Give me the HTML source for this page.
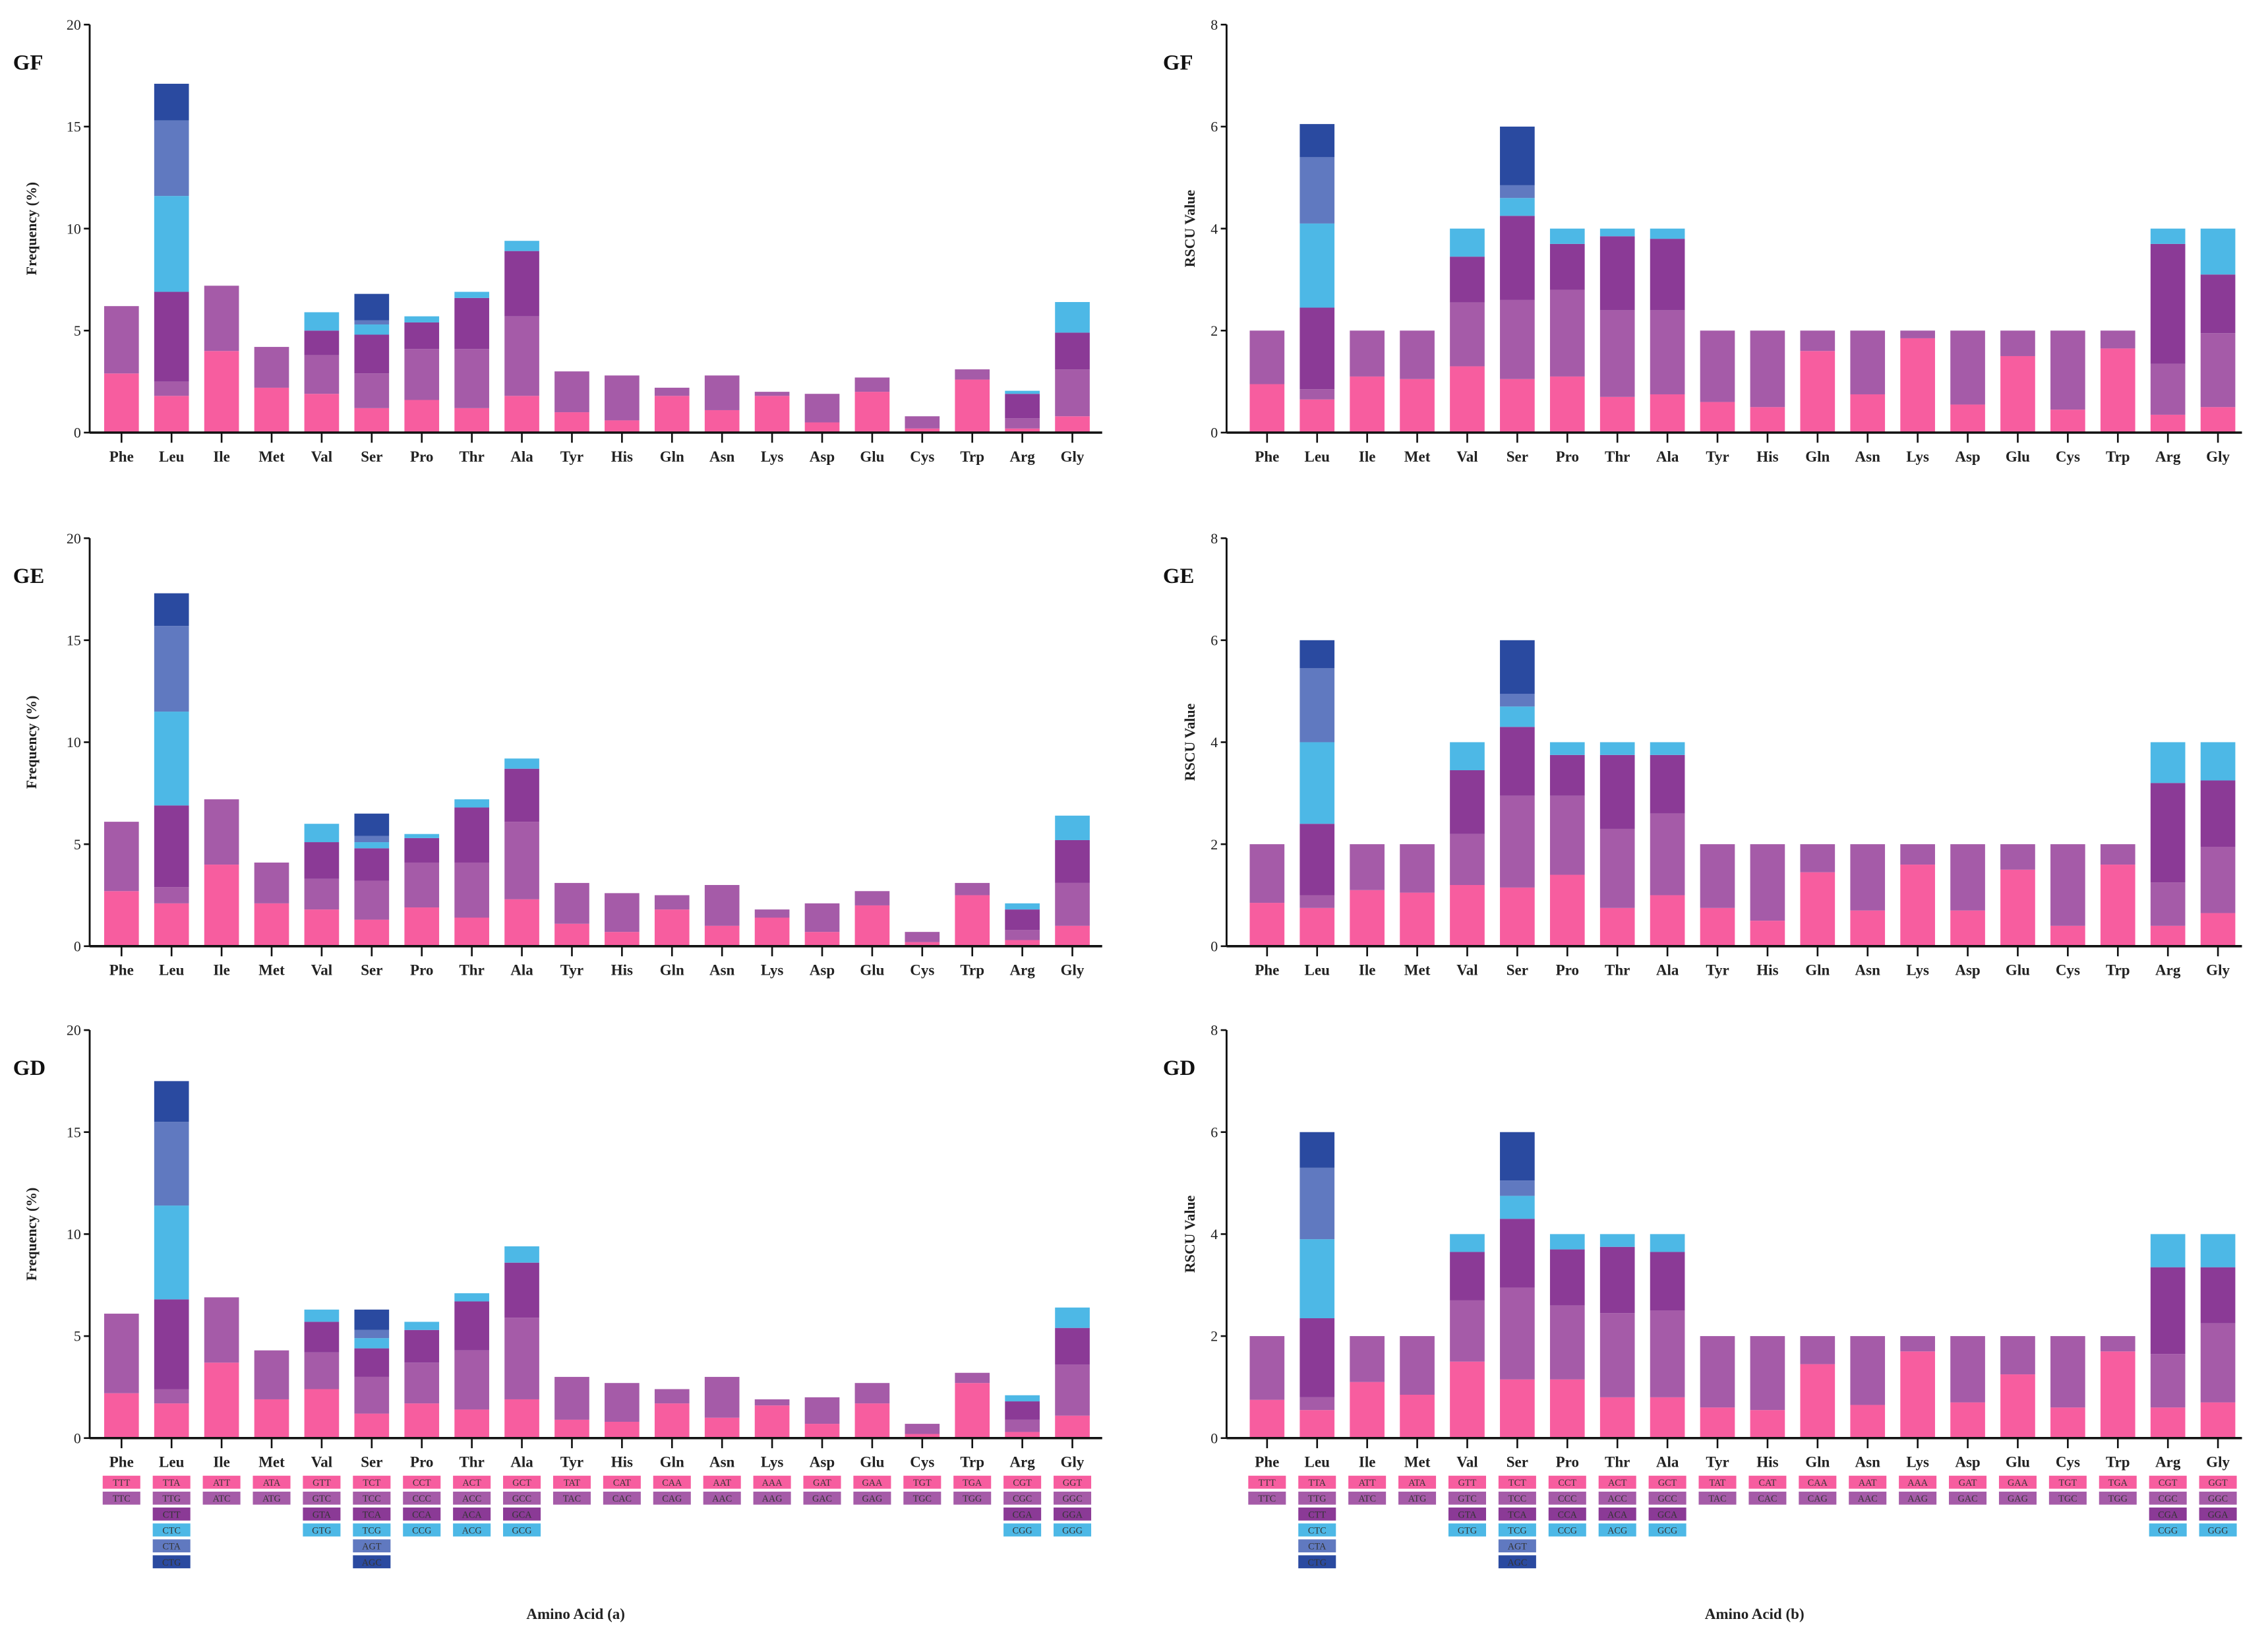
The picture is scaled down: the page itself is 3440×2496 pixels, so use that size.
<!DOCTYPE html>
<html><head><meta charset="utf-8"><style>
html,body{margin:0;padding:0;background:#fff;}
svg{display:block;font-family:"Liberation Serif",serif;font-weight:bold;}
</style></head><body>
<svg id="fig" width="3440" height="2496" viewBox="0 0 1568 1137.7" xmlns="http://www.w3.org/2000/svg"></svg>
<script>
const aminoAcids=["Phe","Leu","Ile","Met","Val","Ser","Pro","Thr","Ala","Tyr","His","Gln","Asn","Lys","Asp","Glu","Cys","Trp","Arg","Gly"];
const codons=[["TTT","TTC"],["TTA","TTG","CTT","CTC","CTA","CTG"],["ATT","ATC"],["ATA","ATG"],["GTT","GTC","GTA","GTG"],["TCT","TCC","TCA","TCG","AGT","AGC"],["CCT","CCC","CCA","CCG"],["ACT","ACC","ACA","ACG"],["GCT","GCC","GCA","GCG"],["TAT","TAC"],["CAT","CAC"],["CAA","CAG"],["AAT","AAC"],["AAA","AAG"],["GAT","GAC"],["GAA","GAG"],["TGT","TGC"],["TGA","TGG"],["CGT","CGC","CGA","CGG"],["GGT","GGC","GGA","GGG"]];
const segColors=["#f75d9f","#a55ba8","#8b3a96","#4db8e6","#6079c0","#2a4aa0"];
// cumulative stack tops per amino acid
const freqGF=[[2.9,6.2],[1.8,2.5,6.9,11.6,15.3,17.1],[4.0,7.2],[2.2,4.2],[1.9,3.8,5.0,5.9],[1.2,2.9,4.8,5.3,5.5,6.8],[1.6,4.1,5.4,5.7],[1.2,4.1,6.6,6.9],[1.8,5.7,8.9,9.4],[1.0,3.0],[0.6,2.8],[1.8,2.2],[1.1,2.8],[1.8,2.0],[0.5,1.9],[2.0,2.7],[0.2,0.8],[2.6,3.1],[0.2,0.7,1.9,2.05],[0.8,3.1,4.9,6.4]];
const freqGE=[[2.7,6.1],[2.1,2.9,6.9,11.5,15.7,17.3],[4.0,7.2],[2.1,4.1],[1.8,3.3,5.1,6.0],[1.3,3.2,4.8,5.1,5.4,6.5],[1.9,4.1,5.3,5.5],[1.4,4.1,6.8,7.2],[2.3,6.1,8.7,9.2],[1.1,3.1],[0.7,2.6],[1.8,2.5],[1.0,3.0],[1.4,1.8],[0.7,2.1],[2.0,2.7],[0.2,0.7],[2.5,3.1],[0.3,0.8,1.8,2.1],[1.0,3.1,5.2,6.4]];
const freqGD=[[2.2,6.1],[1.7,2.4,6.8,11.4,15.5,17.5],[3.7,6.9],[1.9,4.3],[2.4,4.2,5.7,6.3],[1.2,3.0,4.4,4.9,5.3,6.3],[1.7,3.7,5.3,5.7],[1.4,4.3,6.7,7.1],[1.9,5.9,8.6,9.4],[0.9,3.0],[0.8,2.7],[1.7,2.4],[1.0,3.0],[1.6,1.9],[0.7,2.0],[1.7,2.7],[0.2,0.7],[2.7,3.2],[0.3,0.9,1.8,2.1],[1.1,3.6,5.4,6.4]];
const rscuGF=[[0.95,2],[0.65,0.85,2.45,4.1,5.4,6.05],[1.1,2],[1.05,2],[1.3,2.55,3.45,4],[1.05,2.6,4.25,4.6,4.85,6],[1.1,2.8,3.7,4],[0.7,2.4,3.85,4],[0.75,2.4,3.8,4],[0.6,2],[0.5,2],[1.6,2],[0.75,2],[1.85,2],[0.55,2],[1.5,2],[0.45,2],[1.65,2],[0.35,1.35,3.7,4],[0.5,1.95,3.1,4]];
const rscuGE=[[0.85,2],[0.75,1.0,2.4,4.0,5.45,6.0],[1.1,2],[1.05,2],[1.2,2.2,3.45,4],[1.15,2.95,4.3,4.7,4.95,6],[1.4,2.95,3.75,4],[0.75,2.3,3.75,4],[1.0,2.6,3.75,4],[0.75,2],[0.5,2],[1.45,2],[0.7,2],[1.6,2],[0.7,2],[1.5,2],[0.4,2],[1.6,2],[0.4,1.25,3.2,4],[0.65,1.95,3.25,4]];
const rscuGD=[[0.75,2],[0.55,0.8,2.35,3.9,5.3,6.0],[1.1,2],[0.85,2],[1.5,2.7,3.65,4],[1.15,2.95,4.3,4.75,5.05,6],[1.15,2.6,3.7,4],[0.8,2.45,3.75,4],[0.8,2.5,3.65,4],[0.6,2],[0.55,2],[1.45,2],[0.65,2],[1.7,2],[0.7,2],[1.25,2],[0.6,2],[1.7,2],[0.6,1.65,3.35,4],[0.7,2.25,3.35,4]];
const freqTicks=[0,5,10,15,20];
const rscuTicks=[0,2,4,6,8];

const NS="http://www.w3.org/2000/svg";
const svg=document.getElementById('fig');
function mk(tag,attrs,parent){const e=document.createElementNS(NS,tag);for(const k in attrs)e.setAttribute(k,attrs[k]);(parent||svg).appendChild(e);return e;}

const panels=[
 {data:freqGF,name:"GF",ticks:freqTicks,max:20,x0:62,x1:762,c0:84,top:17,zero:299,title:"Frequency (%)",side:"left"},
 {data:freqGE,name:"GE",ticks:freqTicks,max:20,x0:62,x1:762,c0:84,top:372,zero:654,title:"Frequency (%)",side:"left"},
 {data:freqGD,name:"GD",ticks:freqTicks,max:20,x0:62,x1:762,c0:84,top:712,zero:994,title:"Frequency (%)",side:"left",codons:true},
 {data:rscuGF,name:"GF",ticks:rscuTicks,max:8,x0:848,x1:1550,c0:876,top:17,zero:299,title:"RSCU Value",side:"right"},
 {data:rscuGE,name:"GE",ticks:rscuTicks,max:8,x0:848,x1:1550,c0:876,top:372,zero:654,title:"RSCU Value",side:"right"},
 {data:rscuGD,name:"GD",ticks:rscuTicks,max:8,x0:848,x1:1550,c0:876,top:712,zero:994,title:"RSCU Value",side:"right",codons:true}
];
const step=34.6, bw=24;
panels.forEach(p=>{
 const g=mk('g',{});
 
 
 const y=v=>p.zero-(v/p.max)*(p.zero-p.top);
 const x=i=>p.c0+i*step;
 p.data.forEach((stack,i)=>{
  let prev=0;
  stack.forEach((top,k)=>{
   const r=mk('rect',{x:x(i)-bw/2,y:y(top),width:bw,height:Math.max(0,y(prev)-y(top)),fill:segColors[k]},g);
   
   
   prev=top;
  });
 });
 const ya=mk('line',{x1:p.x0,y1:p.top,x2:p.x0,y2:p.zero,stroke:"#111","stroke-width":1.3},g);
 
 const xa=mk('line',{x1:p.x0,y1:p.zero,x2:p.x1,y2:p.zero,stroke:"#111","stroke-width":1.6},g);
 
 p.ticks.forEach(t=>{
  mk('line',{x1:p.x0-4,y1:y(t),x2:p.x0,y2:y(t),stroke:"#111","stroke-width":1.2},g);
  const tl=mk('text',{x:p.x0-6,y:y(t)+3.5,"text-anchor":"end","font-size":10,"font-weight":"normal",fill:"#222"},g);
  tl.textContent=t;
  
 });
 aminoAcids.forEach((a,i)=>{
  mk('line',{x1:x(i),y1:p.zero,x2:x(i),y2:p.zero+7,stroke:"#111","stroke-width":1.2},g);
  const tl=mk('text',{x:x(i),y:p.zero+20,"text-anchor":"middle","font-size":10.5,fill:"#222"},g);
  tl.textContent=a;
  
  if(p.codons){
   codons[i].forEach((c,k)=>{
    const by=p.zero+26+k*11;
    const br=mk('rect',{x:x(i)-13,y:by,width:26,height:9,fill:segColors[k]},g);
    
    const bt=mk('text',{x:x(i),y:by+7,"text-anchor":"middle","font-size":6.5,"font-weight":"normal",fill:"#333"},g);
    bt.textContent=c;
   });
  }
 });
 const lbl=mk('text',{x:p.side==="left"?9:804,y:p.top+31,"font-size":15,fill:"#111"},g);
 lbl.textContent=p.name;
 
 const cy=(p.top+p.zero)/2-(p.top===17?0:10);
 const tx=p.side==="left"?25:826;
 const tt=mk('text',{x:tx,y:p.top+(p.zero-p.top)*0.5,"text-anchor":"middle","font-size":10,fill:"#222",transform:`rotate(-90 ${tx} ${p.top+(p.zero-p.top)*0.5})`},g);
 tt.textContent=p.title;
 
});
const xl1=mk('text',{x:398,y:1119,"text-anchor":"middle","font-size":10.5,fill:"#222"});
xl1.textContent="Amino Acid (a)";

const xl2=mk('text',{x:1213,y:1119,"text-anchor":"middle","font-size":10.5,fill:"#222"});
xl2.textContent="Amino Acid (b)";

</script>
</body></html>
